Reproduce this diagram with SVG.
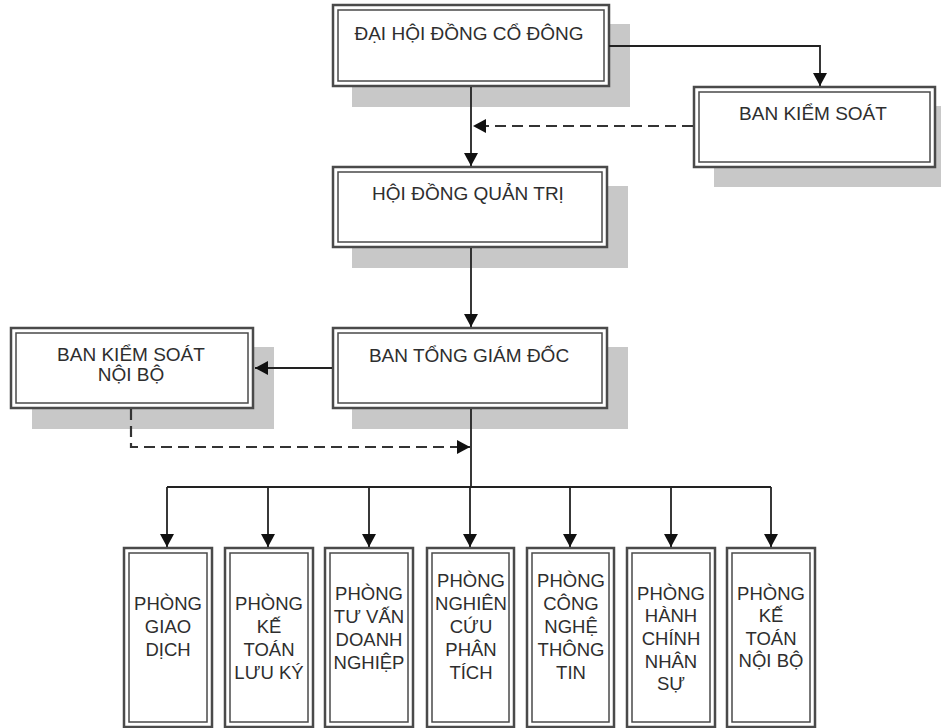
<svg xmlns="http://www.w3.org/2000/svg" width="941" height="728" viewBox="0 0 941 728">
<defs>
<style>
.sh{fill:#c8c8c8;stroke:none}
.o{fill:#fff;stroke:#4a4a4a;stroke-width:2.5}
.i{fill:none;stroke:#4a4a4a;stroke-width:1.5}
.t{font-family:"Liberation Sans",Arial,sans-serif;font-size:19px;fill:#2e2e2e;text-anchor:middle}
.s{font-family:"Liberation Sans",Arial,sans-serif;font-size:18.5px;fill:#2e2e2e;text-anchor:middle}
.c{fill:none;stroke:#222;stroke-width:1.8}
.d{fill:none;stroke:#333;stroke-width:2.2;stroke-dasharray:11 6}
</style>
<marker id="arr" viewBox="0 0 13 14" refX="13" refY="7" markerWidth="13" markerHeight="14" markerUnits="userSpaceOnUse" orient="auto"><path d="M0,0 L13,7 L0,14 z" fill="#111"/></marker>
</defs>
<rect width="941" height="728" fill="#fff"/>

<g id="dhdcd">
<rect class="sh" x="352" y="24" width="278" height="83"/>
<rect class="o" x="333" y="5" width="276" height="81"/>
<rect class="i" x="338" y="10" width="266" height="71"/>
<text class="t" x="469" y="40">ĐẠI HỘI ĐỒNG CỔ ĐÔNG</text>
</g>

<g id="bks">
<rect class="sh" x="714" y="106" width="240" height="81"/>
<rect class="o" x="694" y="87" width="241" height="80"/>
<rect class="i" x="699" y="92" width="231" height="70"/>
<text class="t" x="813" y="120">BAN KIỂM SOÁT</text>
</g>

<g id="hdqt">
<rect class="sh" x="352" y="186" width="276" height="82"/>
<rect class="o" x="333" y="167" width="274" height="80"/>
<rect class="i" x="338" y="172" width="264" height="70"/>
<text class="t" x="468" y="200">HỘI ĐỒNG QUẢN TRỊ</text>
</g>

<g id="btgd">
<rect class="sh" x="352" y="347" width="276" height="82"/>
<rect class="o" x="333" y="328" width="274" height="80"/>
<rect class="i" x="338" y="333" width="264" height="70"/>
<text class="t" x="469" y="362">BAN TỔNG GIÁM ĐỐC</text>
</g>

<g id="bksnb">
<rect class="sh" x="32" y="347" width="242" height="82"/>
<rect class="o" x="11" y="328" width="242" height="80"/>
<rect class="i" x="16" y="333" width="232" height="70"/>
<text class="t" x="131" y="361">BAN KIỂM SOÁT</text>
<text class="t" x="131" y="381">NỘI BỘ</text>
</g>

<g id="p1">
<rect class="o" x="124" y="548" width="88" height="179"/>
<rect class="i" x="129" y="553" width="78" height="169"/>
<text class="s" x="168" y="610">PHÒNG</text>
<text class="s" x="168" y="633">GIAO</text>
<text class="s" x="168" y="656">DỊCH</text>
</g>

<g id="p2">
<rect class="o" x="225" y="548" width="88" height="179"/>
<rect class="i" x="230" y="553" width="78" height="169"/>
<text class="s" x="269" y="610">PHÒNG</text>
<text class="s" x="269" y="633">KẾ</text>
<text class="s" x="269" y="656">TOÁN</text>
<text class="s" x="269" y="679">LƯU KÝ</text>
</g>

<g id="p3">
<rect class="o" x="325" y="548" width="88" height="179"/>
<rect class="i" x="330" y="553" width="78" height="169"/>
<text class="s" x="369" y="600">PHÒNG</text>
<text class="s" x="369" y="623">TƯ VẤN</text>
<text class="s" x="369" y="646">DOANH</text>
<text class="s" x="369" y="669">NGHIỆP</text>
</g>

<g id="p4">
<rect class="o" x="427" y="548" width="87" height="179"/>
<rect class="i" x="432" y="553" width="77" height="169"/>
<text class="s" x="471" y="587">PHÒNG</text>
<text class="s" x="471" y="610">NGHIÊN</text>
<text class="s" x="471" y="633">CỨU</text>
<text class="s" x="471" y="656">PHÂN</text>
<text class="s" x="471" y="679">TÍCH</text>
</g>

<g id="p5">
<rect class="o" x="527" y="548" width="87" height="179"/>
<rect class="i" x="532" y="553" width="77" height="169"/>
<text class="s" x="571" y="587">PHÒNG</text>
<text class="s" x="571" y="610">CÔNG</text>
<text class="s" x="571" y="633">NGHỆ</text>
<text class="s" x="571" y="656">THÔNG</text>
<text class="s" x="571" y="679">TIN</text>
</g>

<g id="p6">
<rect class="o" x="627" y="548" width="88" height="179"/>
<rect class="i" x="632" y="553" width="78" height="169"/>
<text class="s" x="671" y="600">PHÒNG</text>
<text class="s" x="671" y="622">HÀNH</text>
<text class="s" x="671" y="645">CHÍNH</text>
<text class="s" x="671" y="668">NHÂN</text>
<text class="s" x="671" y="690">SỰ</text>
</g>

<g id="p7">
<rect class="o" x="727" y="548" width="88" height="179"/>
<rect class="i" x="732" y="553" width="78" height="169"/>
<text class="s" x="771" y="600">PHÒNG</text>
<text class="s" x="771" y="622">KẾ</text>
<text class="s" x="771" y="645">TOÁN</text>
<text class="s" x="771" y="667">NỘI BỘ</text>
</g>

<g id="connectors">
<path class="c" d="M609,46 H820 V86" marker-end="url(#arr)"/>
<path class="c" d="M471,87 V166" marker-end="url(#arr)"/>
<path class="d" d="M693,126 H473" marker-end="url(#arr)"/>
<path class="c" d="M471,248 V327" marker-end="url(#arr)"/>
<path class="c" d="M332,368 H255" marker-end="url(#arr)"/>
<path class="d" d="M131,409 V447 H470" marker-end="url(#arr)"/>
<path class="c" d="M471,409 V487"/>
<path class="c" d="M167,487 H771"/>
<path class="c" d="M167,487 V547" marker-end="url(#arr)"/>
<path class="c" d="M268,487 V547" marker-end="url(#arr)"/>
<path class="c" d="M369,487 V547" marker-end="url(#arr)"/>
<path class="c" d="M470,487 V547" marker-end="url(#arr)"/>
<path class="c" d="M570,487 V547" marker-end="url(#arr)"/>
<path class="c" d="M671,487 V547" marker-end="url(#arr)"/>
<path class="c" d="M771,487 V547" marker-end="url(#arr)"/>
</g>
</svg>
